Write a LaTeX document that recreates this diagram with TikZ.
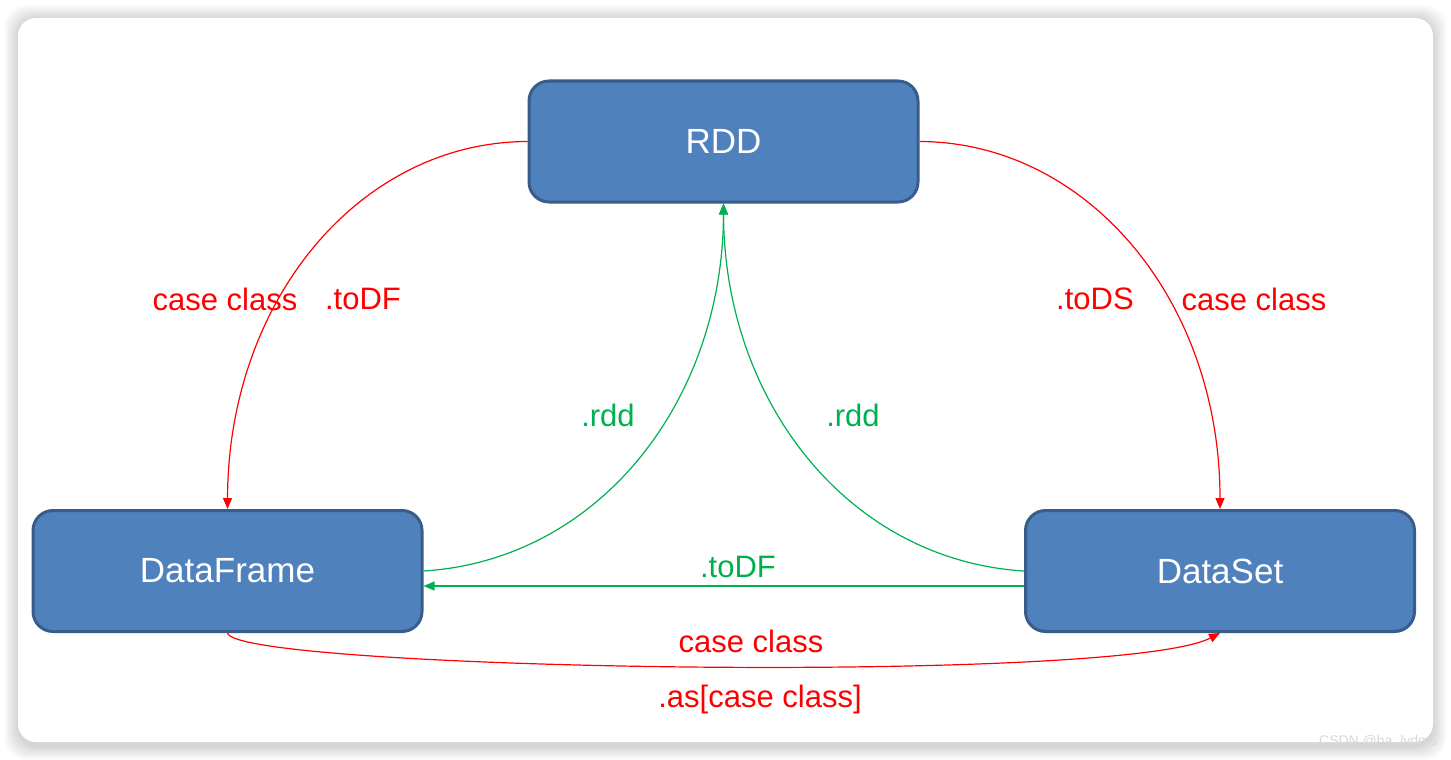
\documentclass[tikz,border=0pt]{standalone}
\usepackage{fontspec}
\setmainfont{Liberation Sans}
\usetikzlibrary{arrows.meta}
\definecolor{boxfill}{HTML}{4F81BD}
\definecolor{boxdraw}{HTML}{385D8A}
\definecolor{lred}{HTML}{FF0000}
\definecolor{lgreen}{HTML}{00B050}
\definecolor{wmark}{HTML}{D8D8D8}
\begin{document}
\begin{tikzpicture}[x=1pt,y=-1pt,
  box/.style={draw=boxdraw,fill=boxfill,line width=3pt,rounded corners=20pt,
    minimum width=389pt,minimum height=121pt,text=white,
    font=\fontsize{35pt}{40pt}\selectfont},
  lbl/.style={inner sep=0pt,font=\fontsize{31pt}{36pt}\selectfont},
  rlbl/.style={lbl,text=lred},
  glbl/.style={lbl,text=lgreen},
  tip/.style={-{Triangle[length=11pt,width=9pt]}},
  redline/.style={tip,draw=lred,line width=1.2pt},
  greenline/.style={tip,draw=lgreen,line width=1.2pt}]
\useasboundingbox (0,0) rectangle (1451,760);
% shadow and frame
\foreach \i in {1,...,14}{
  \fill[black,opacity=0.012,rounded corners=22pt] (18-\i,19-\i) rectangle (1433+\i,746+\i);
}
\fill[white,rounded corners=18pt] (18,18) rectangle (1433,742);
% nodes
\node[box] (rdd) at (723.5,141.5) {RDD};
\node[box] (df) at (227.5,571) {DataFrame};
\node[box] (ds) at (1220,571) {DataSet};
% red curves from RDD
\draw[redline] (rdd.west) .. controls (360,142) and (228,300) .. (df.north);
\draw[redline] (rdd.east) .. controls (1087,142) and (1220,300) .. (ds.north);
% green curves to RDD
\draw[greenline] (df.east) .. controls (600,560) and (723,400) .. (rdd.south);
\draw[greenline] (ds.west) .. controls (847,560) and (724,400) .. (rdd.south);
% straight green
\draw[greenline] ([yshift=-15pt]ds.west) -- ([yshift=-15pt]df.east);
% bottom red
\draw[redline] (df.south) .. controls (235,670) and (1120,685) .. (ds.south);
% labels
\node[rlbl] (l1) at (225,299) {case class};
\node[rlbl] (l2) at (363,299) {.toDF};
\node[rlbl] (l3) at (1095,299) {.toDS};
\node[rlbl] (l4) at (1254,299) {case class};
\node[glbl] (l5) at (608,415) {.rdd};
\node[glbl] (l6) at (853,415) {.rdd};
\node[glbl] (l7) at (738,567) {.toDF};
\node[rlbl] (l8) at (751,641) {case class};
\node[rlbl] (l9) at (760,699) {.as[case class]};
\node[inner sep=0pt,text=wmark,font=\fontsize{14pt}{16pt}\selectfont] (wm) at (1378,742) {CSDN @ha\_lydms};
\end{tikzpicture}
\end{document}
